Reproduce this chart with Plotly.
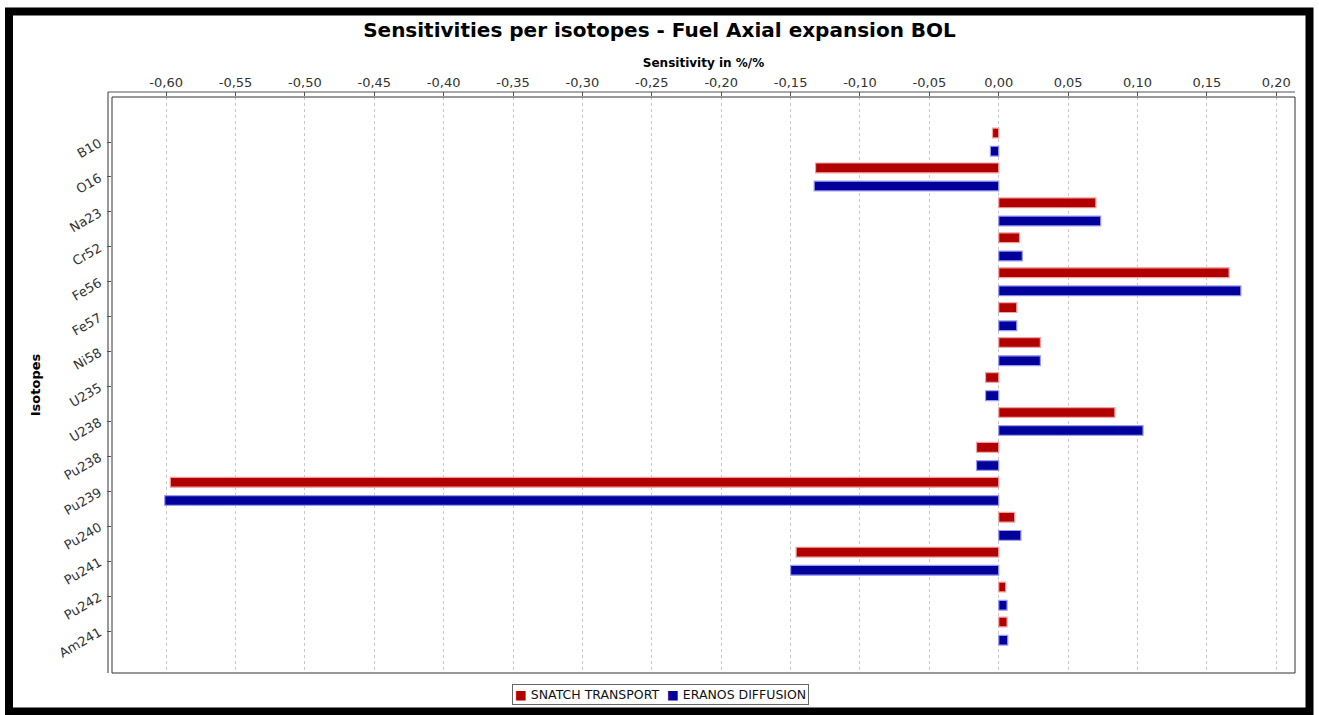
import plotly.graph_objects as go

isotopes = ["B10", "O16", "Na23", "Cr52", "Fe56", "Fe57", "Ni58", "U235", "U238",
            "Pu238", "Pu239", "Pu240", "Pu241", "Pu242", "Am241"]
snatch_transport = [-0.0045, -0.132, 0.070, 0.015, 0.166, 0.013, 0.030, -0.0095, 0.0837,
                    -0.016, -0.597, 0.0115, -0.146, 0.005, 0.006]
eranos_diffusion = [-0.006, -0.133, 0.0735, 0.017, 0.1745, 0.013, 0.030, -0.0095, 0.104,
                    -0.016, -0.601, 0.016, -0.150, 0.006, 0.0065]
x_tick_vals = [-0.60, -0.55, -0.50, -0.45, -0.40, -0.35, -0.30, -0.25, -0.20, -0.15,
               -0.10, -0.05, 0.00, 0.05, 0.10, 0.15, 0.20]
x_tick_text = ["-0,60", "-0,55", "-0,50", "-0,45", "-0,40", "-0,35", "-0,30", "-0,25",
               "-0,20", "-0,15", "-0,10", "-0,05", "0,00", "0,05", "0,10", "0,15", "0,20"]
series_names = ["SNATCH TRANSPORT", "ERANOS DIFFUSION"]
series_colors = ["#b00000", "#00009a"]
series_edges = ["#f5a0a0", "#9a9af0"]

W, H = 1319, 715
L, R, T, B = 112, 1295, 97, 673

def px(x):
    return (x - L) / (R - L)

def py(y):
    return (B - y) / (B - T)

fig = go.Figure()
for name, vals, col, edge, off in zip(series_names, [snatch_transport, eranos_diffusion],
                                      series_colors, series_edges, [-0.40, 0.12]):
    fig.add_trace(go.Bar(
        y=isotopes, x=vals, orientation="h", name=name,
        offset=off, width=0.28,
        marker=dict(color=col, line=dict(color=edge, width=1.2)),
    ))

shapes = [
    dict(type="rect", xref="paper", yref="paper", x0=0, x1=1, y0=0, y1=1,
         line=dict(color="#333333", width=1), layer="above"),
    dict(type="line", xref="paper", yref="paper", x0=px(108), x1=1, y0=py(92), y1=py(92),
         line=dict(color="#555555", width=1.2)),
    dict(type="line", xref="paper", yref="paper", x0=px(108), x1=px(108), y0=0, y1=py(92),
         line=dict(color="#555555", width=1.2)),
    dict(type="rect", xref="paper", yref="paper", x0=px(9), x1=px(1309.5),
         y0=py(711.5), y1=py(11.5), line=dict(color="black", width=8)),
]

legend_text = "  ".join(
    f"<span style='color:{c}'>■</span> {n}" for n, c in zip(series_names, series_colors)
)

fig.update_layout(
    width=W, height=H,
    margin=dict(l=L, r=W - R, t=T, b=H - B),
    paper_bgcolor="white", plot_bgcolor="white",
    barmode="overlay",
    showlegend=False,
    title=dict(text="<b>Sensitivities per isotopes - Fuel Axial expansion BOL</b>",
               x=0.5, xanchor="center", y=1 - 30 / H, yanchor="middle",
               font=dict(family="DejaVu Sans", size=20, color="black")),
    font=dict(family="DejaVu Sans", size=13, color="#222222"),
    xaxis=dict(side="top", range=[-0.639, 0.2135], tickvals=x_tick_vals, ticktext=x_tick_text,
               showgrid=True, gridcolor="#c8c8c8", griddash="dot", gridwidth=1,
               zeroline=False, ticks="outside", ticklen=4, tickcolor="#555555",
               tickfont=dict(size=13, color="#333333"),
               title=dict(text="<b>Sensitivity in %/%</b>", standoff=4,
                          font=dict(size=12, color="black"))),
    yaxis=dict(range=[15.2, -1.29], tickangle=-30, showgrid=False, zeroline=False,
               ticks="outside", ticklen=4, tickcolor="#555555", ticklabelstandoff=5,
               tickfont=dict(size=13, color="#333333"),
               title=dict(text="<b>Isotopes</b>", standoff=12,
                          font=dict(size=13, color="black"))),
    annotations=[dict(text=legend_text, xref="paper", yref="paper", x=px(660), y=py(694),
                      xanchor="center", yanchor="middle", showarrow=False,
                      font=dict(size=12.5, color="#111111"), bgcolor="white",
                      bordercolor="#666666", borderwidth=1, borderpad=2)],
    shapes=shapes,
)

fig.write_html("out.html", config={"displayModeBar": False},
               post_script="document.body.style.margin='0px';")
